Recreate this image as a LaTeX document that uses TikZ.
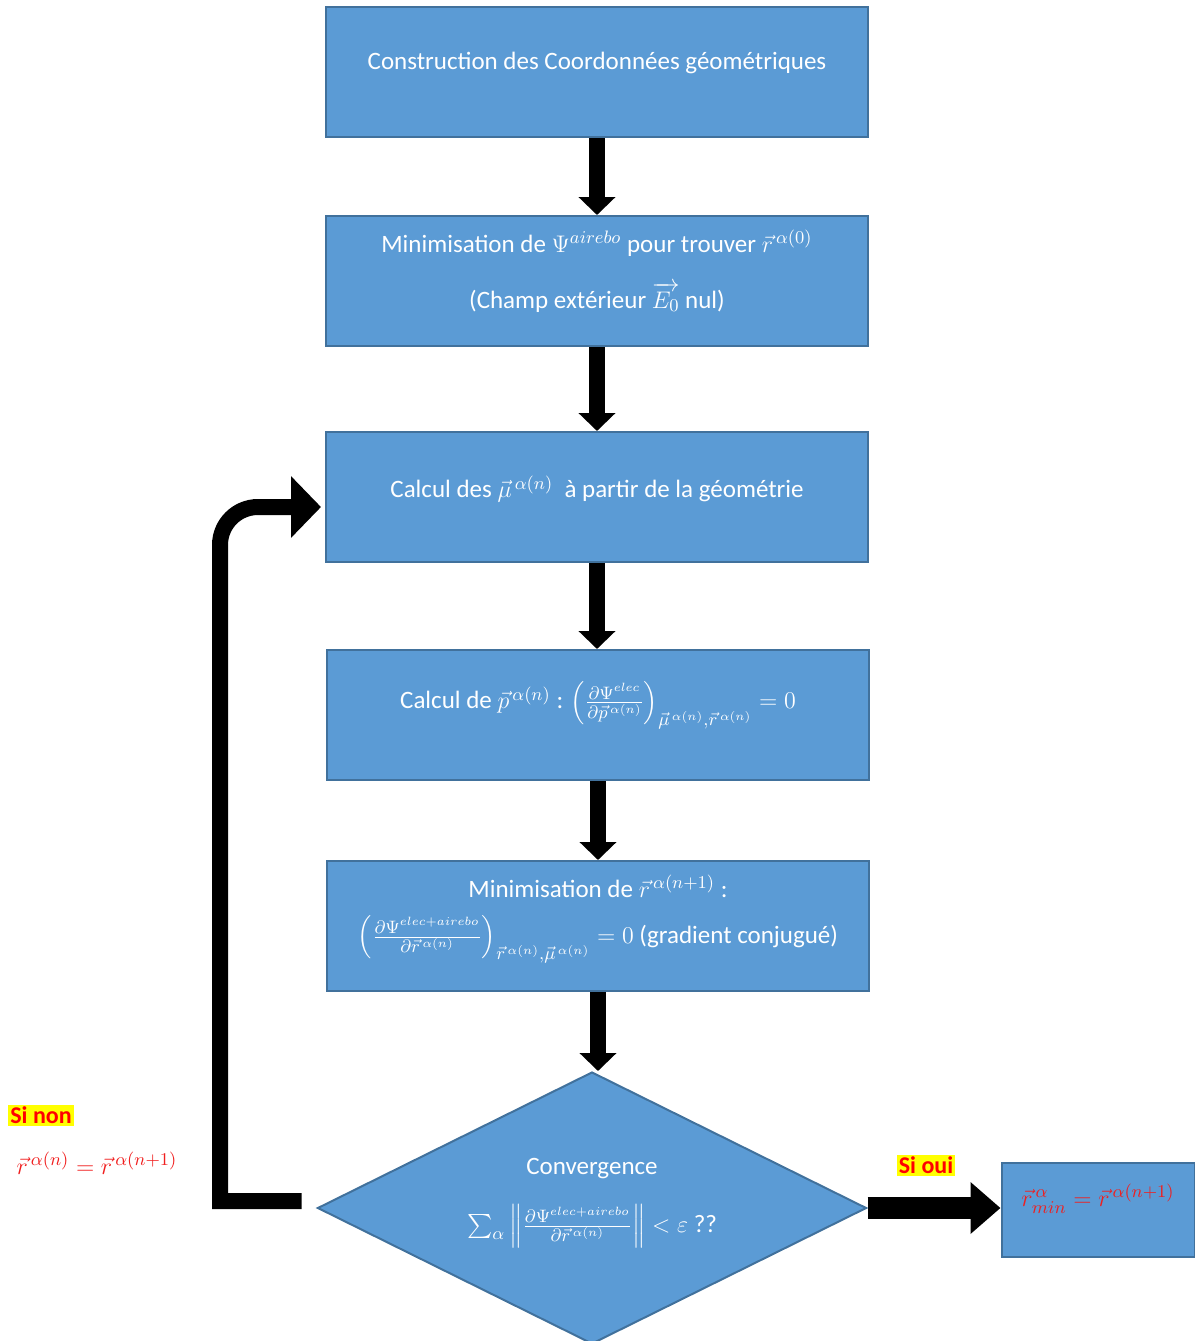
\documentclass[tikz,border=0pt]{standalone}
\usepackage{amsmath}
\usepackage{fontspec}
\setmainfont{Carlito}
\usetikzlibrary{arrows.meta,shapes.geometric}
\definecolor{boxblue}{HTML}{5B9BD5}
\definecolor{boxline}{HTML}{41719C}
\definecolor{hiyellow}{HTML}{FFFF00}
\definecolor{mathred}{HTML}{F01E1E}
\tikzset{
  box/.style={rectangle, draw=boxline, fill=boxblue, line width=1pt,
              minimum width=271pt, minimum height=65pt},
  test/.style={diamond, draw=boxline, fill=boxblue, line width=1pt,
               minimum width=274.5pt, minimum height=136pt, inner sep=0pt},
  res/.style={rectangle, draw=boxline, fill=boxblue, line width=1pt,
              minimum width=96.5pt, minimum height=47pt},
  txt/.style={text=white, font=\fontsize{12.5}{15}\selectfont, align=center},
  down/.style={draw=black, line width=8pt, -{Triangle[length=9pt,width=18pt]}},   % step arrow
  back/.style={draw=black, line width=8pt, -{Triangle[length=15pt,width=30pt]}},  % loop arrow
  yes/.style={draw=black, line width=11pt, -{Triangle[length=15pt,width=25pt]}},  % exit arrow
  tag/.style={fill=hiyellow, text=red, inner sep=1pt,
              font=\bfseries\fontsize{12}{14}\selectfont},
  eqn/.style={text=mathred, font=\fontsize{12.5}{15}\selectfont},
}
\begin{document}
\begin{tikzpicture}[x=0.5pt, y=-0.5pt]
  \useasboundingbox (0,0) rectangle (1195,1341);
  \node[box, label={[txt, yshift=4.5pt]center:Construction des Coordonnées géométriques}] (b1) at (597,72) {};
  \node[box, label={[txt, yshift=5pt]center:{Minimisation de $\Psi^{airebo}$ pour trouver $\vec{r}^{\,\alpha(0)}$\\[13pt]
                    (Champ extérieur $\overrightarrow{E_0}$ nul)}}] (b2) at (597,281) {};
  \node[box, label={[txt, yshift=4pt]center:{Calcul des $\vec{\mu}^{\,\alpha(n)}$ \ à partir de la géométrie}}] (b3) at (597,497) {};
  \node[box, label={[txt, yshift=5pt]center:{Calcul de $\vec{p}^{\,\alpha(n)}$ : $\left(\frac{\partial\Psi^{elec}}{\partial\vec{p}^{\,\alpha(n)}}\right)_{\vec{\mu}^{\,\alpha(n)},\vec{r}^{\,\alpha(n)}} = 0$}}] (b4) at (598,715) {};
  \node[box, label={[txt, yshift=3.5pt]center:{Minimisation de $\vec{r}^{\,\alpha(n+1)}$ :\\[8pt]
                    $\left(\frac{\partial\Psi^{elec+airebo}}{\partial\vec{r}^{\,\alpha(n)}}\right)_{\vec{r}^{\,\alpha(n)},\vec{\mu}^{\,\alpha(n)}} = 0$ (gradient conjugué)}}] (b5) at (598,926) {};
  \node[test, label={[txt, yshift=2.5pt]center:{Convergence\\[12pt]
                    $\sum_\alpha \left\|\frac{\partial\Psi^{elec+airebo}}{\partial\vec{r}^{\,\alpha(n)}}\right\| < \varepsilon$ ??}}] (dec) at (592,1208) {};
  \node[res, label={[eqn, yshift=5.5pt]center:{$\vec{r}^{\,\alpha}_{min} = \vec{r}^{\,\alpha(n+1)}$}}] (rmin) at (1098,1210) {};
  \node[tag] (non) at (41,1115)  {Si non};
  \node[eqn] (rupd) at (97,1163) {$\vec{r}^{\,\alpha(n)} = \vec{r}^{\,\alpha(n+1)}$};
  \node[tag] (oui) at (926,1165) {Si oui};
  \foreach \u/\v in {b1/b2,b2/b3,b3/b4,b4/b5,b5/dec}
    \draw[down] (\u.south) -- (\u.south |- \v.north);
  \draw[back] ([xshift=-7.5pt,yshift=3.5pt]dec.west) -- (220,1201) -- (220,545)
    to[out=90,in=180] (258,507) -- ([xshift=-2pt,yshift=-5pt]b3.west);
  \draw[yes] (dec.east) -- (dec.east -| rmin.west);
\end{tikzpicture}
\end{document}
